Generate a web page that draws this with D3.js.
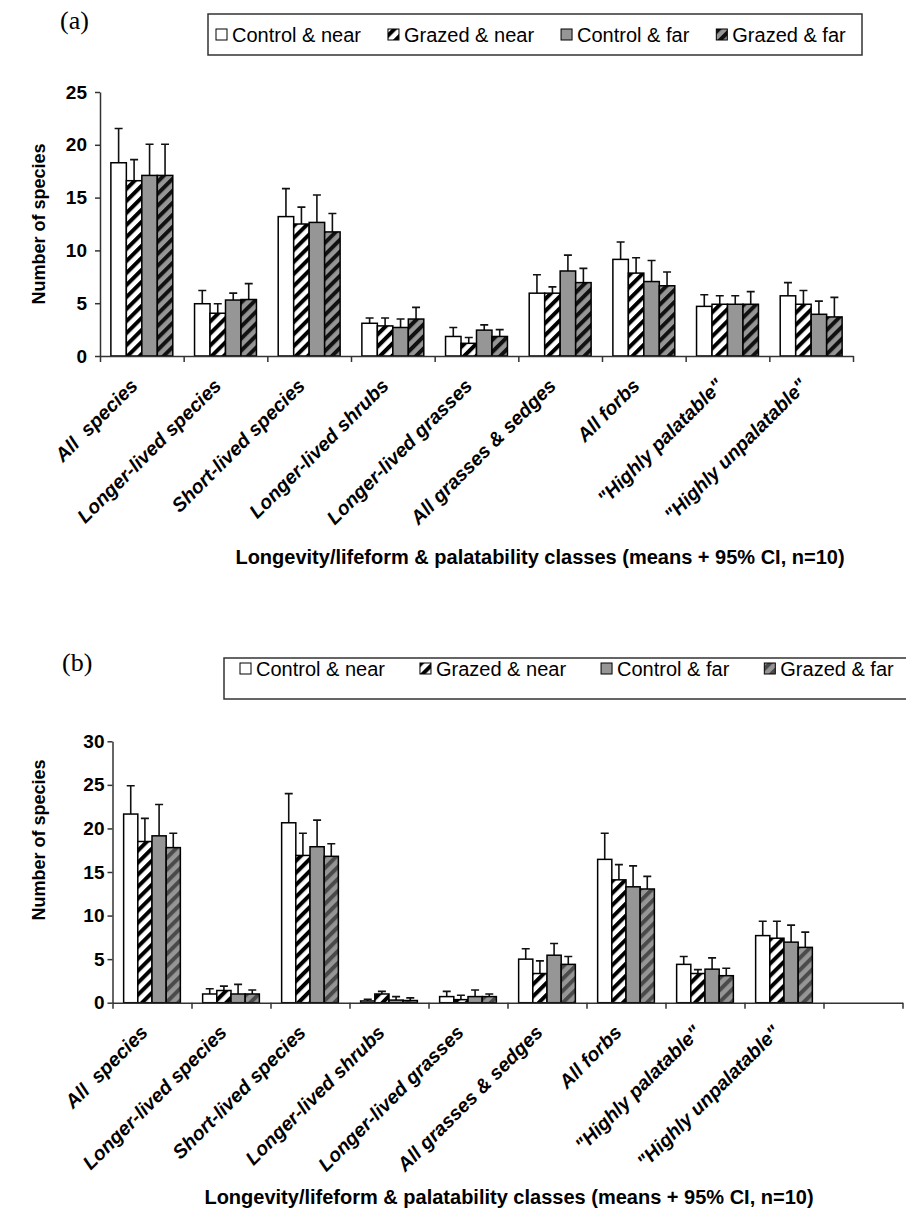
<!DOCTYPE html>
<html>
<head>
<meta charset="utf-8">
<script src="https://cdn.jsdelivr.net/npm/d3@7"></script>
<style>
  body { margin: 0; background: #fff; }
  text { font-family: "Liberation Sans", Arial, sans-serif; }
</style>
</head>
<body>
<div id="chart"></div>
<script>
// Species counts by class, two panels (a) and (b)

const categories = ['All  species', 'Longer-lived species', 'Short-lived species',
    'Longer-lived shrubs', 'Longer-lived grasses', 'All grasses & sedges',
    'All forbs', '"Highly palatable"', '"Highly unpalatable"'];
const seriesNames = ['Control & near', 'Grazed & near', 'Control & far', 'Grazed & far'];

// panel (a): means and upper 95% CI
const meanA_controlNear = [18.3, 4.95, 13.2, 3.1, 1.85, 5.95, 9.15, 4.7, 5.7];
const meanA_grazedNear  = [16.6, 4.05, 12.5, 2.85, 1.2, 5.95, 7.85, 4.9, 4.9];
const meanA_controlFar  = [17.1, 5.3, 12.65, 2.7, 2.45, 8.05, 7.05, 4.9, 3.95];
const meanA_grazedFar   = [17.1, 5.35, 11.75, 3.5, 1.85, 6.95, 6.65, 4.9, 3.7];
const upA_controlNear = [21.55, 6.2, 15.85, 3.6, 2.7, 7.7, 10.8, 5.8, 6.95];
const upA_grazedNear  = [18.6, 4.95, 14.1, 3.6, 1.75, 6.55, 9.3, 5.7, 6.2];
const upA_controlFar  = [20.05, 5.95, 15.25, 3.5, 2.95, 9.55, 9.05, 5.7, 5.2];
const upA_grazedFar   = [20.05, 6.85, 13.5, 4.6, 2.5, 8.3, 7.95, 6.1, 5.55];

// panel (b): means and upper 95% CI
const meanB_controlNear = [21.65, 1.0, 20.65, 0.2, 0.7, 5.0, 16.45, 4.4, 7.7];
const meanB_grazedNear  = [18.5, 1.4, 16.9, 1.0, 0.35, 3.35, 14.1, 3.35, 7.4];
const meanB_controlFar  = [19.15, 1.0, 17.9, 0.3, 0.7, 5.45, 13.3, 3.85, 6.95];
const meanB_grazedFar   = [17.8, 1.0, 16.8, 0.25, 0.7, 4.4, 13.05, 3.1, 6.35];
const upB_controlNear = [24.9, 1.6, 24.0, 0.4, 1.3, 6.2, 19.45, 5.3, 9.35];
const upB_grazedNear  = [21.15, 1.9, 19.45, 1.3, 0.85, 4.8, 15.85, 3.8, 9.35];
const upB_controlFar  = [22.75, 2.1, 20.95, 0.7, 1.45, 6.8, 15.7, 5.15, 8.9];
const upB_grazedFar   = [19.45, 1.45, 18.25, 0.55, 1.0, 5.3, 14.5, 3.95, 8.1];

const yTicksA = [0, 5, 10, 15, 20, 25];
const yTicksB = [0, 5, 10, 15, 20, 25, 30];
const xTitle = 'Longevity/lifeform & palatability classes (means + 95% CI, n=10)';
const yTitle = 'Number of species';

const gray = '#969696';

var svg = d3.select('#chart').append('svg')
    .attr('width', 906)
    .attr('height', 1215);

// Hatch patterns
var defs = svg.append('defs');
function hatch(id, bg, fg) {
    var p = defs.append('pattern')
        .attr('id', id)
        .attr('patternUnits', 'userSpaceOnUse')
        .attr('width', 8.5)
        .attr('height', 8.5)
        .attr('patternTransform', 'rotate(45)');
    p.append('rect').attr('width', 8.5).attr('height', 8.5).attr('fill', bg);
    p.append('rect').attr('width', 4).attr('height', 8.5).attr('fill', fg);
}
hatch('hatchWhite', '#fff', '#000');
hatch('hatchGrayA', gray, '#111');
hatch('hatchGrayB', gray, '#4a4a4a');

function drawPanel(cfg) {
    var g = svg.append('g');

    var x0 = d3.scaleBand().domain(d3.range(cfg.slots))
        .range([cfg.left, cfg.left + cfg.width])
        .paddingInner(cfg.pad).paddingOuter(cfg.pad / 2);
    var x1 = d3.scaleBand().domain(seriesNames).range([0, x0.bandwidth()]);
    var xEdge = d3.scaleLinear().domain([0, cfg.slots]).range([cfg.left, cfg.left + cfg.width]);
    var y = d3.scaleLinear().domain([0, cfg.yMax]).range([cfg.bottom, cfg.bottom - cfg.height]);

    // bars + error bars
    var rows = [];
    categories.forEach(function(c, i) {
        seriesNames.forEach(function(s, j) {
            rows.push({ i: i, s: s, j: j, mean: cfg.means[j][i], up: cfg.ups[j][i] });
        });
    });

    g.selectAll('.err')
        .data(rows)
        .enter()
        .append('path')
        .attr('class', 'err')
        .attr('d', function(d) {
            var cx = x0(d.i) + x1(d.s) + x1.bandwidth() / 2;
            return 'M' + cx + ',' + y(d.mean) + 'V' + y(d.up) +
                'M' + (cx - 4) + ',' + y(d.up) + 'H' + (cx + 4);
        })
        .attr('stroke', '#111')
        .attr('stroke-width', 1.6)
        .attr('fill', 'none');

    g.selectAll('.bar')
        .data(rows)
        .enter()
        .append('rect')
        .attr('class', 'bar')
        .attr('x', function(d) { return x0(d.i) + x1(d.s); })
        .attr('y', function(d) { return y(d.mean); })
        .attr('width', x1.bandwidth())
        .attr('height', function(d) { return y(0) - y(d.mean); })
        .attr('fill', function(d) { return cfg.fills[d.j]; })
        .attr('stroke', '#000')
        .attr('stroke-width', 1.5);

    // y axis
    var ya = g.append('g')
        .attr('transform', 'translate(' + cfg.left + ',0)')
        .call(d3.axisLeft(y).tickValues(cfg.yTicks).tickSize(5).tickSizeOuter(0).tickPadding(cfg.tickPad));
    ya.selectAll('text').style('font', 'bold 19px "Liberation Sans", Arial').attr('fill', '#000');

    // x axis with ticks between categories
    var xa = g.append('g')
        .attr('transform', 'translate(0,' + cfg.bottom + ')')
        .call(d3.axisBottom(xEdge).tickValues(d3.range(cfg.slots + 1)).tickSize(6).tickSizeOuter(0).tickFormat(''));

    [ya, xa].forEach(function(a) {
        a.selectAll('path, line').attr('stroke', '#333').attr('stroke-width', 1.5);
    });

    // rotated category labels
    g.selectAll('.xlab')
        .data(categories)
        .enter()
        .append('text')
        .attr('class', 'xlab')
        .attr('transform', function(d, i) {
            var cx = x0(i) + x0.bandwidth() / 2;
            return 'translate(' + (cx - 3) + ',' + (cfg.bottom + 31) + ') rotate(-45)';
        })
        .attr('text-anchor', 'end')
        .style('white-space', 'pre')
        .style('font', 'italic bold 19.5px "Liberation Sans", Arial')
        .text(function(d) { return d; });

    // axis titles
    g.append('text')
        .attr('x', cfg.xTitleX)
        .attr('y', cfg.xTitleY)
        .attr('text-anchor', 'middle')
        .style('font', 'bold 20px "Liberation Sans", Arial')
        .text(xTitle);

    g.append('text')
        .attr('transform', 'translate(45,' + cfg.yTitleY + ') rotate(-90)')
        .attr('text-anchor', 'middle')
        .style('font', 'bold 18px "Liberation Sans", Arial')
        .text(yTitle);

    // panel letter
    g.append('text')
        .attr('x', cfg.letterX)
        .attr('y', cfg.letterY)
        .style('font', '26px "Liberation Serif", "Times New Roman", serif')
        .text(cfg.letter);

    // legend
    var lg = g.append('g');
    lg.append('rect')
        .attr('x', cfg.legend.x)
        .attr('y', cfg.legend.y)
        .attr('width', cfg.legend.w)
        .attr('height', cfg.legend.h)
        .attr('fill', '#fff')
        .attr('stroke', '#333')
        .attr('stroke-width', 1.5);
    var lx = cfg.legend.startX;
    seriesNames.forEach(function(s, j) {
        lg.append('rect')
            .attr('x', lx)
            .attr('y', cfg.legend.base - 13)
            .attr('width', 11)
            .attr('height', 11)
            .attr('fill', cfg.fills[j])
            .attr('stroke', '#000')
            .attr('stroke-width', 1);
        var t = lg.append('text')
            .attr('x', lx + 16)
            .attr('y', cfg.legend.base)
            .style('font', '20px "Liberation Sans", Arial')
            .text(s);
        lx += 16 + t.node().getComputedTextLength() + cfg.legend.gap;
    });
}

drawPanel({
    letter: '(a)', letterX: 60, letterY: 29,
    left: 100, bottom: 356, width: 753, height: 264, slots: 9, pad: 0.26,
    yMax: 25, yTicks: yTicksA, tickPad: 8,
    means: [meanA_controlNear, meanA_grazedNear, meanA_controlFar, meanA_grazedFar],
    ups: [upA_controlNear, upA_grazedNear, upA_controlFar, upA_grazedFar],
    fills: ['#fff', 'url(#hatchWhite)', gray, 'url(#hatchGrayA)'],
    xTitleX: 540, xTitleY: 564, yTitleY: 224,
    legend: { x: 208, y: 14, w: 654, h: 41, startX: 216, base: 42, gap: 27 }
});

drawPanel({
    letter: '(b)', letterX: 62, letterY: 671,
    left: 112.5, bottom: 1002.7, width: 790, height: 261.4, slots: 10, pad: 0.282,
    yMax: 30, yTicks: yTicksB, tickPad: 3,
    means: [meanB_controlNear, meanB_grazedNear, meanB_controlFar, meanB_grazedFar],
    ups: [upB_controlNear, upB_grazedNear, upB_controlFar, upB_grazedFar],
    fills: ['#fff', 'url(#hatchWhite)', gray, 'url(#hatchGrayB)'],
    xTitleX: 509, xTitleY: 1204, yTitleY: 840,
    legend: { x: 224, y: 658, w: 700, h: 41, startX: 240, base: 676, gap: 35 }
});
</script>
</body>
</html>
